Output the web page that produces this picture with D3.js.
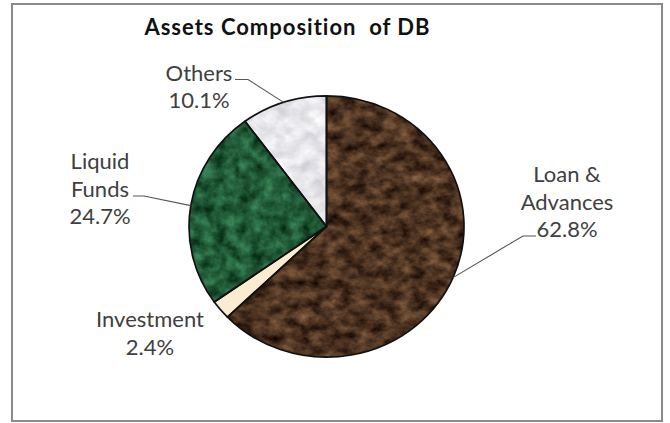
<!DOCTYPE html>
<html>
<head>
<meta charset="utf-8">
<script src="https://cdn.jsdelivr.net/npm/d3@7"></script>
<style>
  html, body { margin: 0; padding: 0; background: #fff; }
  svg { display: block; }
  text { font-variant-ligatures: none; }
</style>
</head>
<body>
<svg id="chart" width="670" height="423"></svg>
<script>
// Asset composition of DB, shares in percent, drawn clockwise from 12 o'clock
const categories = ["Loan & Advances", "Investment", "Liquid Funds", "Others"];
const shares = [62.8, 2.4, 24.7, 10.1];
const labelLines = [["Loan &", "Advances"], ["Investment"], ["Liquid", "Funds"], ["Others"]];
const chartTitle = "Assets Composition  of DB";

const W = 670, H = 423;
const cx = 326.5, cy = 226.5, radius = 137.5, squash = 0.95;
const fontFamily = "Lato, 'Open Sans', 'DejaVu Sans', sans-serif";
const labelSize = 22, lineGap = 27.7;

// label block centre x, first baseline y, and leader elbow (label end -> bend)
const labelLayout = [
  { x: 567, y: 182, leader: [[536, 236], [523, 236]] },
  { x: 150, y: 327, leader: null },
  { x: 100, y: 169, leader: [[133, 196], [144, 196]] },
  { x: 199, y: 80.5, leader: [[235, 79.5], [248, 79.5]] }
];

// marble-like textures per slice: turbulence frequency, seed, colour matrix
const textures = [
  { freq: "0.07 0.09", seed: 7, matrix: "0.62 0 0 0 -0.01  0.48 0 0 0 -0.04  0.34 0 0 0 -0.04  0 0 0 0 1" },
  null,
  { freq: "0.08 0.08", seed: 3, matrix: "0.30 0 0 0 -0.02  0.52 0 0 0 0.10  0.40 0 0 0 0.02  0 0 0 0 1" },
  { freq: "0.06 0.07", seed: 11, matrix: "0.30 0 0 0 0.76  0.30 0 0 0 0.76  0.25 0 0 0 0.80  0 0 0 0 1" }
];
const plainFills = ["#4d3321", "#fbebd0", "#21593a", "#e6e6ea"];

const svg = d3.select("#chart");
const defs = svg.append("defs");

svg.append("rect")
  .attr("x", 0).attr("y", 0).attr("width", W).attr("height", H)
  .attr("fill", "#fff");

// chart area border
svg.append("rect")
  .attr("x", 12).attr("y", 4).attr("width", 650).attr("height", 417)
  .attr("fill", "none").attr("stroke", "#8a8a8a").attr("stroke-width", 2);

textures.forEach((t, i) => {
  if (!t) return;
  const f = defs.append("filter")
    .attr("id", "tex" + i)
    .attr("filterUnits", "userSpaceOnUse")
    .attr("x", -160).attr("y", -160).attr("width", 320).attr("height", 320)
    .attr("color-interpolation-filters", "sRGB");
  f.append("feTurbulence")
    .attr("type", "fractalNoise")
    .attr("baseFrequency", t.freq)
    .attr("numOctaves", 5)
    .attr("seed", t.seed)
    .attr("result", "noise");
  f.append("feColorMatrix")
    .attr("in", "noise").attr("type", "matrix")
    .attr("values", t.matrix).attr("result", "tint");
  f.append("feComposite")
    .attr("in", "tint").attr("in2", "SourceGraphic").attr("operator", "in");
});

const pie = d3.pie().sort(null).value(d => d)(shares);
const arc = d3.arc().innerRadius(0).outerRadius(radius);

const pieG = svg.append("g")
  .attr("transform", `translate(${cx},${cy}) scale(1,${squash})`);

pieG.selectAll("path.slice")
  .data(pie)
  .join("path")
  .attr("class", "slice")
  .attr("d", arc)
  .attr("fill", (d, i) => plainFills[i])
  .attr("filter", (d, i) => textures[i] ? `url(#tex${i})` : null);

pieG.selectAll("path.edge")
  .data(pie)
  .join("path")
  .attr("class", "edge")
  .attr("d", arc)
  .attr("fill", "none")
  .attr("stroke", "#111")
  .attr("stroke-width", 1.7)
  .attr("stroke-linejoin", "round")
  .attr("vector-effect", "non-scaling-stroke");

// leader lines: from the label elbow to the slice edge at its mid-angle
const edgePoint = d => {
  const a = (d.startAngle + d.endAngle) / 2;
  return [cx + radius * Math.sin(a), cy - radius * Math.cos(a) * squash];
};

svg.append("g")
  .selectAll("path")
  .data(pie.filter((d, i) => labelLayout[i].leader))
  .join("path")
  .attr("d", d => d3.line()([...labelLayout[d.index].leader, edgePoint(d)]))
  .attr("fill", "none")
  .attr("stroke", "#555")
  .attr("stroke-width", 1.1);

const fmt = v => d3.format(".1f")(v) + "%";

const labels = svg.append("g")
  .attr("font-family", fontFamily)
  .attr("font-size", labelSize)
  .attr("fill", "#404040")
  .attr("text-anchor", "middle");

pie.forEach((d, i) => {
  const lay = labelLayout[i];
  const lines = [...labelLines[i], fmt(shares[i])];
  const t = labels.append("text").attr("x", lay.x).attr("y", lay.y);
  lines.forEach((s, k) => {
    t.append("tspan").attr("x", lay.x).attr("y", lay.y + k * lineGap).text(s);
  });
});

svg.append("text")
  .attr("x", 287.5).attr("y", 35)
  .attr("text-anchor", "middle")
  .attr("font-family", fontFamily)
  .attr("font-weight", "bold")
  .attr("font-size", 22)
  .attr("letter-spacing", 1)
  .attr("fill", "#111")
  .style("white-space", "pre")
  .text(chartTitle);
</script>
</body>
</html>
